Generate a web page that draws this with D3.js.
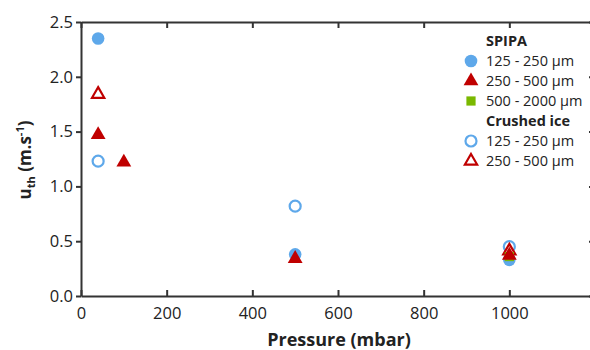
<!DOCTYPE html>
<html>
<head>
<meta charset="utf-8">
<script src="https://cdn.jsdelivr.net/npm/d3@7"></script>
<style>
  body { margin: 0; background: #fff; overflow: hidden; }
  text { font-family: 'Open Sans', 'Noto Sans', sans-serif; fill: #222; }
</style>
</head>
<body>
<div id="chart"></div>
<script>
// values
const xTicks = [0, 200, 400, 600, 800, 1000]
const yTicks = [0, 0.5, 1.0, 1.5, 2.0, 2.5]

const spipaSmall = [[40, 2.35], [500, 0.38], [1000, 0.33]]
const spipaMid = [[40, 1.48], [100, 1.23], [500, 0.35], [1000, 0.38]]
const spipaLarge = [[1000, 0.36]]
const crushedSmall = [[40, 1.23], [500, 0.82], [1000, 0.45]]
const crushedMid = [[40, 1.85], [1000, 0.42]]

const blue = '#5ea8ea'
const red = '#c00000'
const green = '#7ab800'

const series = [
  { name: '125 - 250 µm', data: spipaSmall, shape: 'circle', filled: true, color: blue },
  { name: '250 - 500 µm', data: spipaMid, shape: 'triangle', filled: true, color: red },
  { name: '500 - 2000 µm', data: spipaLarge, shape: 'square', filled: true, color: green },
  { name: '125 - 250 µm', data: crushedSmall, shape: 'circle', filled: false, color: blue },
  { name: '250 - 500 µm', data: crushedMid, shape: 'triangle', filled: false, color: red }
]

const width = 590
const height = 350
const margin = { left: 81, top: 22, right: -5, bottom: 54 }

const svg = d3.select('#chart').append('svg')
  .attr('width', width)
  .attr('height', height)

const xScale = d3.scaleLinear().domain([0, 1200]).range([margin.left, width - margin.right])
const yScale = d3.scaleLinear().domain([0, 2.5]).range([height - margin.bottom, margin.top])

const axisColor = '#333'

// bottom axis, ticks pointing in
svg.append('g')
  .attr('transform', `translate(0, ${yScale(0)})`)
  .call(d3.axisBottom(xScale).tickValues(xTicks).tickSizeInner(-6).tickSizeOuter(0).tickPadding(11).tickFormat(d3.format('d')))
  .call(g => g.select('.domain').attr('stroke', axisColor).attr('stroke-width', 2))
  .call(g => g.selectAll('.tick line').attr('stroke', axisColor).attr('stroke-width', 2))
  .call(g => g.selectAll('.tick text').attr('font-size', 16.5).attr('fill', '#222').style('font-family', "'Open Sans', sans-serif"))

// top axis, ticks only
svg.append('g')
  .attr('transform', `translate(0, ${yScale(2.5)})`)
  .call(d3.axisTop(xScale).tickValues(xTicks).tickSizeInner(-6).tickSizeOuter(0).tickFormat(''))
  .call(g => g.select('.domain').attr('stroke', axisColor).attr('stroke-width', 2))
  .call(g => g.selectAll('.tick line').attr('stroke', axisColor).attr('stroke-width', 2))

// left axis, ticks pointing out
svg.append('g')
  .attr('transform', `translate(${xScale(0)}, 0)`)
  .call(d3.axisLeft(yScale).tickValues(yTicks).tickSizeInner(5).tickSizeOuter(0).tickPadding(3).tickFormat(d3.format('.1f')))
  .call(g => g.select('.domain').attr('stroke', axisColor).attr('stroke-width', 2))
  .call(g => g.selectAll('.tick line').attr('stroke', axisColor).attr('stroke-width', 2))
  .call(g => g.selectAll('.tick text').attr('font-size', 16.5).attr('fill', '#222').style('font-family', "'Open Sans', sans-serif"))

// right axis, ticks pointing in
svg.append('g')
  .attr('transform', `translate(${xScale(1200)}, 0)`)
  .call(d3.axisRight(yScale).tickValues(yTicks).tickSizeInner(-6).tickSizeOuter(0).tickFormat(''))
  .call(g => g.select('.domain').attr('stroke', axisColor).attr('stroke-width', 2))
  .call(g => g.selectAll('.tick line').attr('stroke', axisColor).attr('stroke-width', 2))

// axis titles
svg.append('text')
  .attr('x', xScale(600) + 1)
  .attr('y', 346)
  .attr('text-anchor', 'middle')
  .attr('font-size', 18)
  .attr('font-weight', 'bold')
  .text('Pressure (mbar)')

const yTitle = svg.append('text')
  .attr('transform', `translate(31, ${yScale(1.25) + 1}) rotate(-90)`)
  .attr('text-anchor', 'middle')
  .attr('font-size', 17)
  .attr('font-weight', 'bold')
yTitle.append('tspan').text('u')
yTitle.append('tspan').attr('font-size', 11).attr('dy', 4).text('th')
yTitle.append('tspan').attr('dy', -4).text(' (m.s')
yTitle.append('tspan').attr('font-size', 11).attr('dy', -7).text('-1')
yTitle.append('tspan').attr('dy', 7).text(')')

// marker drawing
const symbolFor = (shape, size) => {
  const type = shape === 'circle' ? d3.symbolCircle : shape === 'triangle' ? d3.symbolTriangle : d3.symbolSquare
  return d3.symbol().type(type).size(size)()
}
const sizeFor = (s) => s.shape === 'circle' ? (s.filled ? 125 : 95) : s.shape === 'triangle' ? (s.filled ? 95 : 65) : 85

function drawMarker(g, s) {
  g.append('path')
    .attr('d', symbolFor(s.shape, sizeFor(s)))
    .attr('fill', s.filled ? s.color : '#fff')
    .attr('stroke', s.color)
    .attr('stroke-width', s.filled ? 0 : 2.2)
}

// points (draw in order so open markers sit on top)
const drawOrder = [3, 4, 0, 2, 1]
drawOrder.forEach(i => {
  const s = series[i]
  s.data.forEach(d => {
    const g = svg.append('g')
      .attr('transform', `translate(${xScale(d[0])}, ${yScale(d[1]) + (s.shape === 'triangle' ? 1 : 0)})`)
    drawMarker(g, s)
  })
})

// legend
const legend = svg.append('g').attr('transform', 'translate(471, 0)')
const legendRows = [
  { title: 'SPIPA', y: 41 },
  { s: 0, y: 61 },
  { s: 1, y: 81 },
  { s: 2, y: 101 },
  { title: 'Crushed ice', y: 121 },
  { s: 3, y: 141 },
  { s: 4, y: 161 }
]
legendRows.forEach(r => {
  if (r.title) {
    legend.append('text')
      .attr('x', 15)
      .attr('y', r.y + 5)
      .attr('font-size', 14.5)
      .attr('font-weight', 'bold')
      .text(r.title)
  } else {
    const s = series[r.s]
    const g = legend.append('g').attr('transform', `translate(0, ${r.y})`)
    drawMarker(g, s)
    legend.append('text')
      .attr('x', 15)
      .attr('y', r.y + 5)
      .attr('font-size', 14.5)
      .text(s.name)
  }
})
</script>
</body>
</html>
